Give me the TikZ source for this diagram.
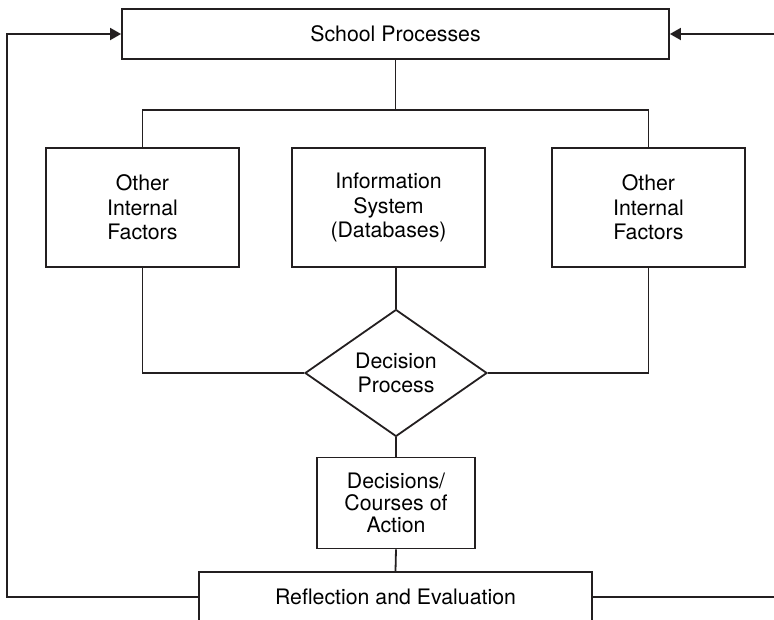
\documentclass[tikz,border=0pt]{standalone}
\usepackage{fontspec}
\setmainfont{TeX Gyre Heros}
\usepackage{tikz}
\usetikzlibrary{arrows.meta,shapes.geometric,calc}
\definecolor{flowink}{RGB}{35,31,32}

\begin{document}
\begin{tikzpicture}[x=1pt,y=-1pt,>={Triangle[length=11pt,width=12pt]},
    box/.style={draw=flowink,line width=1.8pt,align=center,inner sep=0pt,
      font=\fontsize{21.3}{24.5}\selectfont},
    link/.style={flowink,line width=1.8pt}]
    \useasboundingbox (0,0) rectangle (774,619);
    % boxes
    \node[box,minimum width=547pt,minimum height=50pt] (proc) at (395.5,34) {School Processes};
    \node[box,minimum width=193pt,minimum height=119pt] (otherL) at (142.5,207.5) {Other\\Internal\\Factors};
    \node[box,minimum width=193pt,minimum height=119pt] (info) at (388.5,207.5) {Information\\System\\(Databases)};
    \node[box,minimum width=193pt,minimum height=119pt] (otherR) at (648.5,207.5) {Other\\Internal\\Factors};
    \node[box,diamond,minimum width=182pt,minimum height=127pt] (dec) at (396,373) {Decision\\Process};
    \node[box,minimum width=158pt,minimum height=91pt,font=\fontsize{21.3}{22}\selectfont] (act) at (396,503) {Decisions/\\Courses of\\Action};
    \node[box,minimum width=393pt,minimum height=50pt] (refl) at (395.5,597) {Reflection and Evaluation};
    \coordinate (split) at (395.5,110);
    \coordinate (backL) at (7,34);
    \coordinate (inR) at (774,34);
    \coordinate (outR) at (774,597);
    % connectors
    \draw[link] (proc.south) -- (split);
    \draw[link] (otherL.north) |- (split) -| (otherR.north);
    \draw[link] (dec.north |- info.south) -- (dec.north);
    \draw[link] (otherL.south) |- (dec.west);
    \draw[link] (otherR.south) |- (dec.east);
    \draw[link] (dec.south) -- (act.north);
    \draw[link] (act.south) -- (refl.north);
    % feedback
    \draw[link,->] (refl.west) -| (backL) -- (proc.west);
    \draw[link,->] (inR) -- (proc.east);
    \draw[link] (refl.east) -- (outR);
\end{tikzpicture}
\end{document}
